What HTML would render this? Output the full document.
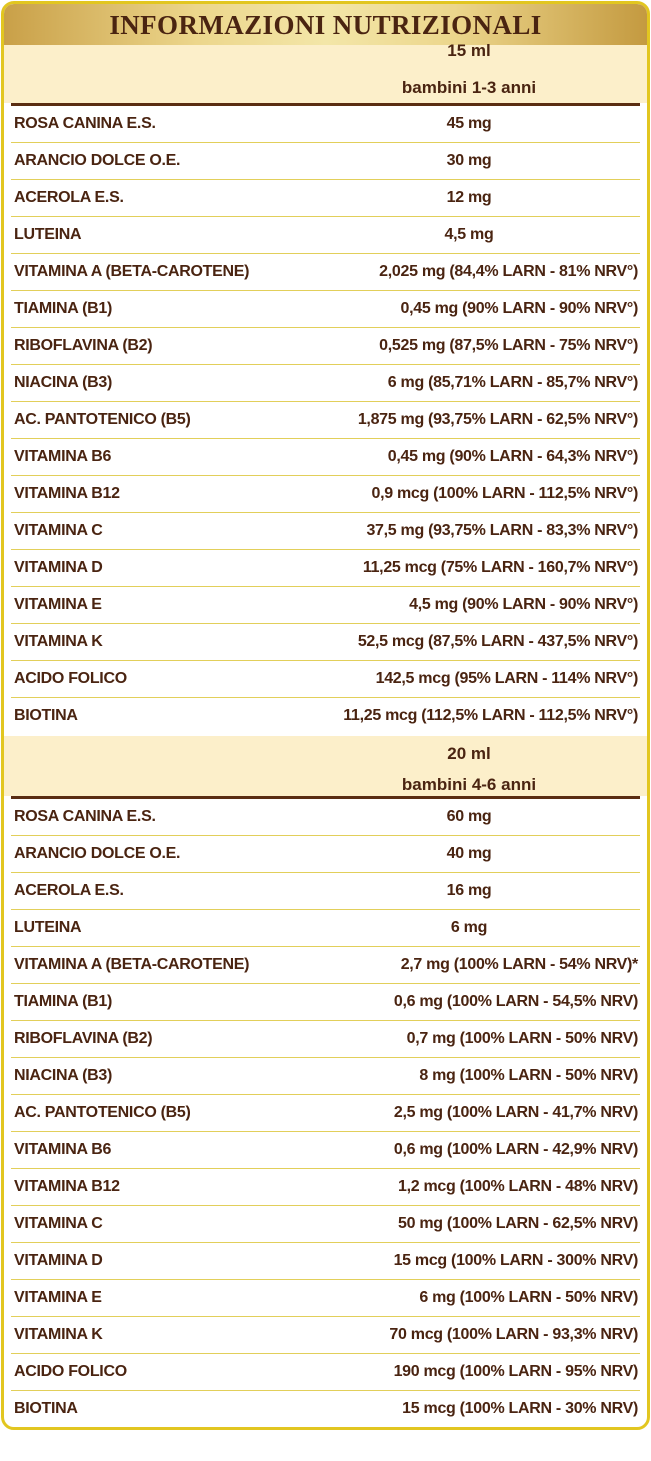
<!DOCTYPE html>
<html><head><meta charset="utf-8"><style>
body{margin:0;width:651px;height:1461px;background:#fff;position:relative;font-family:"Liberation Sans",sans-serif;color:#4a2411;}
.box{position:absolute;left:1px;top:1px;width:643px;height:1423px;border:3px solid #e2c620;border-radius:13px;overflow:hidden;}
.title{position:absolute;left:0;top:0;width:643px;height:41px;background:linear-gradient(90deg,#c9a048,#ecd68c 30%,#f3e6a8 50%,#ecd68c 70%,#c49a40);text-align:center;font:bold 27px "Liberation Serif",serif;line-height:43px;letter-spacing:0.4px;color:#4a2411;}
.hdr{position:absolute;left:0;width:643px;background:#fcefca;}
.hl{position:absolute;left:7px;width:629px;height:3px;background:#5a2d12;}
.r{position:absolute;left:0;width:643px;height:37px;font-weight:bold;font-size:16px;letter-spacing:-0.3px;}
.r .l{position:absolute;left:10px;top:9px;}
.r .v{position:absolute;right:9px;top:9px;}
.r .c{position:absolute;left:410px;width:110px;text-align:center;top:9px;}
.r::after{content:"";position:absolute;left:7px;right:7px;bottom:0;height:1px;background:#e2cf5a;}
.r.last::after{display:none}
.h{position:absolute;left:360px;width:210px;text-align:center;font-weight:bold;font-size:17px;}
</style></head><body>
<div class="box">
<div class="title">INFORMAZIONI NUTRIZIONALI</div>
<div class="hdr" style="top:41px;height:58px"></div>
<div class="h" style="top:37px">15 ml</div>
<div class="h" style="top:74px">bambini 1-3 anni</div>
<div class="hl" style="top:99px"></div>

<div class="r" style="top:102px"><span class="l">ROSA CANINA E.S.</span><span class="c">45 mg</span></div>
<div class="r" style="top:139px"><span class="l">ARANCIO DOLCE O.E.</span><span class="c">30 mg</span></div>
<div class="r" style="top:176px"><span class="l">ACEROLA E.S.</span><span class="c">12 mg</span></div>
<div class="r" style="top:213px"><span class="l">LUTEINA</span><span class="c">4,5 mg</span></div>
<div class="r" style="top:250px"><span class="l">VITAMINA A (BETA-CAROTENE)</span><span class="v">2,025 mg (84,4% LARN - 81% NRV°)</span></div>
<div class="r" style="top:287px"><span class="l">TIAMINA (B1)</span><span class="v">0,45 mg (90% LARN - 90% NRV°)</span></div>
<div class="r" style="top:324px"><span class="l">RIBOFLAVINA (B2)</span><span class="v">0,525 mg (87,5% LARN - 75% NRV°)</span></div>
<div class="r" style="top:361px"><span class="l">NIACINA (B3)</span><span class="v">6 mg (85,71% LARN - 85,7% NRV°)</span></div>
<div class="r" style="top:398px"><span class="l">AC. PANTOTENICO (B5)</span><span class="v">1,875 mg (93,75% LARN - 62,5% NRV°)</span></div>
<div class="r" style="top:435px"><span class="l">VITAMINA B6</span><span class="v">0,45 mg (90% LARN - 64,3% NRV°)</span></div>
<div class="r" style="top:472px"><span class="l">VITAMINA B12</span><span class="v">0,9 mcg (100% LARN - 112,5% NRV°)</span></div>
<div class="r" style="top:509px"><span class="l">VITAMINA C</span><span class="v">37,5 mg (93,75% LARN - 83,3% NRV°)</span></div>
<div class="r" style="top:546px"><span class="l">VITAMINA D</span><span class="v">11,25 mcg (75% LARN - 160,7% NRV°)</span></div>
<div class="r" style="top:583px"><span class="l">VITAMINA E</span><span class="v">4,5 mg (90% LARN - 90% NRV°)</span></div>
<div class="r" style="top:620px"><span class="l">VITAMINA K</span><span class="v">52,5 mcg (87,5% LARN - 437,5% NRV°)</span></div>
<div class="r" style="top:657px"><span class="l">ACIDO FOLICO</span><span class="v">142,5 mcg (95% LARN - 114% NRV°)</span></div>
<div class="r last" style="top:694px"><span class="l">BIOTINA</span><span class="v">11,25 mcg (112,5% LARN - 112,5% NRV°)</span></div>

<div class="hdr" style="top:732px;height:60px"></div>
<div class="h" style="top:740px">20 ml</div>
<div class="h" style="top:771px">bambini 4-6 anni</div>
<div class="hl" style="top:792px"></div>

<div class="r" style="top:795px"><span class="l">ROSA CANINA E.S.</span><span class="c">60 mg</span></div>
<div class="r" style="top:832px"><span class="l">ARANCIO DOLCE O.E.</span><span class="c">40 mg</span></div>
<div class="r" style="top:869px"><span class="l">ACEROLA E.S.</span><span class="c">16 mg</span></div>
<div class="r" style="top:906px"><span class="l">LUTEINA</span><span class="c">6 mg</span></div>
<div class="r" style="top:943px"><span class="l">VITAMINA A (BETA-CAROTENE)</span><span class="v">2,7 mg (100% LARN - 54% NRV)*</span></div>
<div class="r" style="top:980px"><span class="l">TIAMINA (B1)</span><span class="v">0,6 mg (100% LARN - 54,5% NRV)</span></div>
<div class="r" style="top:1017px"><span class="l">RIBOFLAVINA (B2)</span><span class="v">0,7 mg (100% LARN - 50% NRV)</span></div>
<div class="r" style="top:1054px"><span class="l">NIACINA (B3)</span><span class="v">8 mg (100% LARN - 50% NRV)</span></div>
<div class="r" style="top:1091px"><span class="l">AC. PANTOTENICO (B5)</span><span class="v">2,5 mg (100% LARN - 41,7% NRV)</span></div>
<div class="r" style="top:1128px"><span class="l">VITAMINA B6</span><span class="v">0,6 mg (100% LARN - 42,9% NRV)</span></div>
<div class="r" style="top:1165px"><span class="l">VITAMINA B12</span><span class="v">1,2 mcg (100% LARN - 48% NRV)</span></div>
<div class="r" style="top:1202px"><span class="l">VITAMINA C</span><span class="v">50 mg (100% LARN - 62,5% NRV)</span></div>
<div class="r" style="top:1239px"><span class="l">VITAMINA D</span><span class="v">15 mcg (100% LARN - 300% NRV)</span></div>
<div class="r" style="top:1276px"><span class="l">VITAMINA E</span><span class="v">6 mg (100% LARN - 50% NRV)</span></div>
<div class="r" style="top:1313px"><span class="l">VITAMINA K</span><span class="v">70 mcg (100% LARN - 93,3% NRV)</span></div>
<div class="r" style="top:1350px"><span class="l">ACIDO FOLICO</span><span class="v">190 mcg (100% LARN - 95% NRV)</span></div>
<div class="r last" style="top:1387px"><span class="l">BIOTINA</span><span class="v">15 mcg (100% LARN - 30% NRV)</span></div>
</div>
</body></html>
